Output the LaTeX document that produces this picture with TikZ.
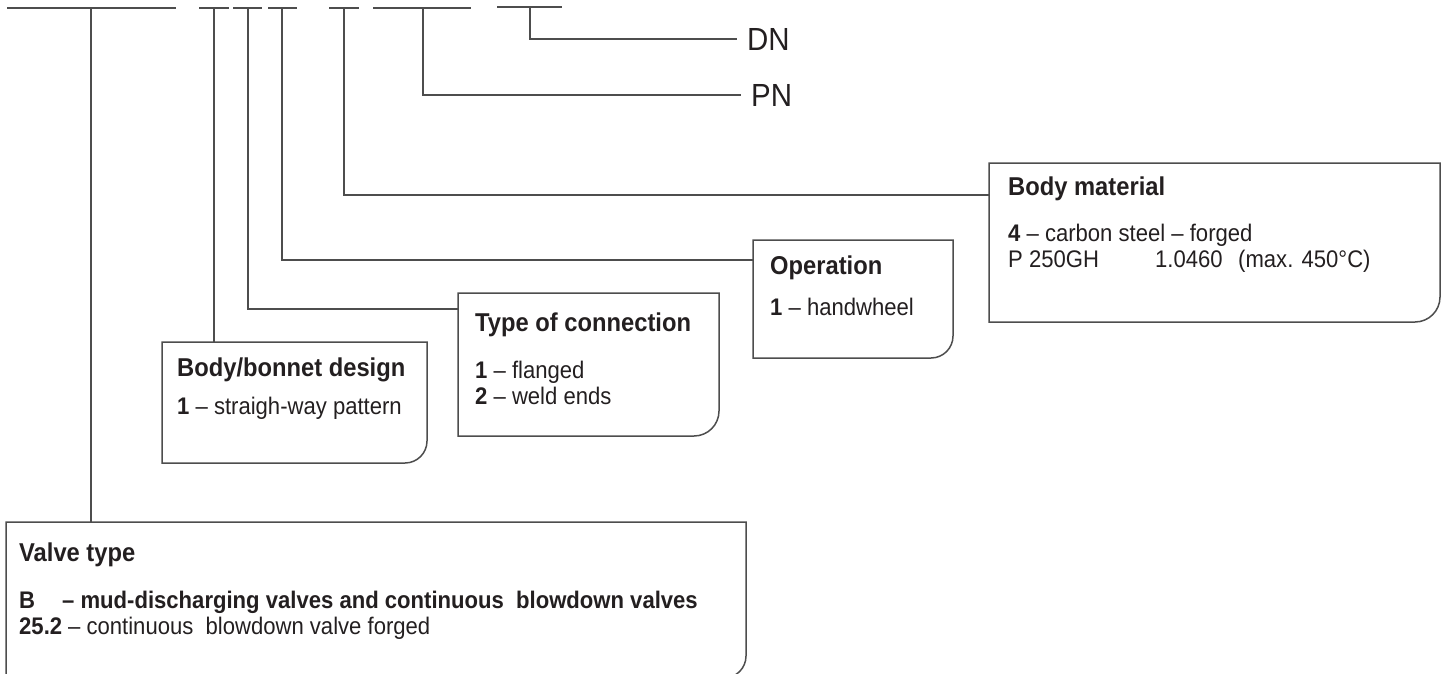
\documentclass[tikz,border=0pt]{standalone}
\usepackage{fontspec}
\setmainfont[FakeStretch=0.92]{Liberation Sans}
\definecolor{lc}{HTML}{4D4D4D}
\definecolor{tc}{HTML}{231F20}
\begin{document}
\begin{tikzpicture}[x=1pt,y=1pt,
  conn/.style={draw=lc,line width=1.5pt},
  boxline/.style={draw=lc,line width=1.5pt,line join=miter},
  head/.style={anchor=base west,inner sep=0pt,font=\fontsize{25.8}{30}\selectfont\bfseries,text=tc},
  txt/.style={anchor=base west,inner sep=0pt,font=\fontsize{24}{28}\selectfont,text=tc},
  btxt/.style={txt,font=\fontsize{24}{28}\selectfont\bfseries},
  lab/.style={anchor=west,inner sep=0pt,font=\fontsize{32}{36}\selectfont,text=tc}]
\useasboundingbox (0,0) rectangle (1447,-674);

% top bar segments
\coordinate (s1a) at (7,-8);   \coordinate (s1b) at (176,-8);  \coordinate (t1) at (91,-8);
\coordinate (s2a) at (199,-8); \coordinate (s2b) at (229,-8);  \coordinate (t2) at (214,-8);
\coordinate (s3a) at (233,-8); \coordinate (s3b) at (262,-8);  \coordinate (t3) at (248,-8);
\coordinate (s4a) at (268,-8); \coordinate (s4b) at (297,-8);  \coordinate (t4) at (282,-8);
\coordinate (s5a) at (329,-8); \coordinate (s5b) at (359,-8);  \coordinate (t5) at (344,-8);
\coordinate (s6a) at (373,-8); \coordinate (s6b) at (471,-8);  \coordinate (t6) at (423,-8);
\coordinate (s7a) at (497,-7); \coordinate (s7b) at (562,-7);  \coordinate (t7) at (530,-7);
\foreach \i in {1,...,7}{\draw[conn] (s\i a) -- (s\i b);}

% DN / PN
\node[lab] (dn) at (747,-39) {DN};
\node[lab] (pn) at (751,-95) {PN};
\coordinate (dnend) at (737,-39);
\coordinate (pnend) at (741,-95);
\draw[conn] (t7) |- (dnend);
\draw[conn] (t6) |- (pnend);

% boxes
\draw[boxline] (989,-163) -- (1440,-163) -- (1440,-297) arc[start angle=0,end angle=-90,radius=25pt] -- (989,-322) -- cycle;
\draw[boxline] (753,-240) -- (953,-240) -- (953,-336) arc[start angle=0,end angle=-90,radius=22pt] -- (753,-358) -- cycle;
\draw[boxline] (458,-293) -- (719,-293) -- (719,-411) arc[start angle=0,end angle=-90,radius=25pt] -- (458,-436) -- cycle;
\draw[boxline] (162,-342) -- (427,-342) -- (427,-441) arc[start angle=0,end angle=-90,radius=22pt] -- (162,-463) -- cycle;
\draw[boxline] (6,-522) -- (746,-522) -- (746,-656) arc[start angle=0,end angle=-90,radius=22pt] -- (6,-678) -- cycle;

\coordinate (bm-in) at (989,-195);
\coordinate (op-in) at (753,-260);
\coordinate (tc-in) at (458,-309);
\coordinate (bb-in) at (214,-342);
\coordinate (vt-in) at (91,-522);
\draw[conn] (t5) |- (bm-in);
\draw[conn] (t4) |- (op-in);
\draw[conn] (t3) |- (tc-in);
\draw[conn] (t2) -- (bb-in);
\draw[conn] (t1) -- (vt-in);

% Body material
\node[head] (bmh) at (1008,-195) {Body material};
\node[txt] (bm1) at (1008,-241) {\textbf{4} – carbon steel – forged};
\node[txt] (bm2a) at (1008,-267) {P 250GH};
\node[txt] (bm2b) at (1155,-267) {1.0460};
\node[txt] (bm2c) at (1238,-267) {(max. 450°C)};

% Operation
\node[head] (oph) at (770,-274) {Operation};
\node[txt] (op1) at (770,-315) {\textbf{1} – handwheel};

% Type of connection
\node[head] (tch) at (475,-331) {Type of connection};
\node[txt] (tc1) at (475,-378) {\textbf{1} – flanged};
\node[txt] (tc2) at (475,-404) {\textbf{2} – weld ends};

% Body/bonnet design
\node[head] (bbh) at (177,-376) {Body/bonnet design};
\node[txt] (bb1) at (177,-414) {\textbf{1} – straigh-way pattern};

% Valve type
\node[head] (vth) at (19,-561) {Valve type};
\node[btxt] (vtb) at (19,-608) {B};
\node[btxt] (vtbt) at (62,-608) {– mud-discharging valves and continuous\ \ blowdown valves};
\node[btxt] (vtc) at (19,-634) {25.2};
\node[txt] (vtct) at (68,-634) {– continuous\ \ blowdown valve forged};
\end{tikzpicture}
\end{document}
